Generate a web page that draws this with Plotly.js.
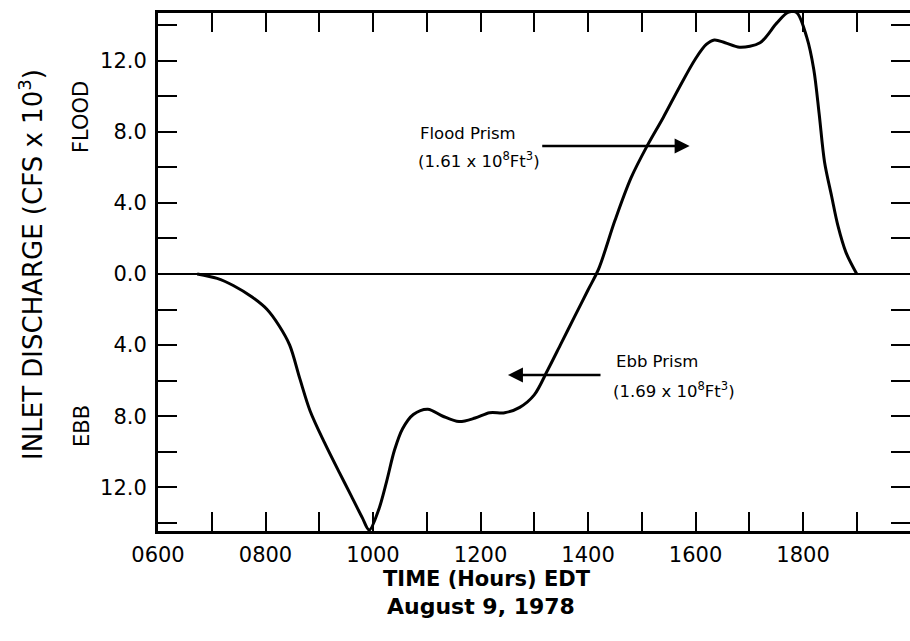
<!DOCTYPE html>
<html>
<head>
<meta charset="utf-8">
<script src="https://cdn.plot.ly/plotly-3.0.1.min.js"></script>
<style>html,body{margin:0;padding:0;background:#fff;}#chart{width:910px;height:641px;}</style>
</head>
<body>
<div id="chart"></div>
<script>
// Time in decimal hours (EDT), August 9, 1978
const hours = [6.73, 7.1, 7.4, 7.75, 8.03, 8.25, 8.45, 8.64, 8.83, 9.1, 9.38, 9.6, 9.8, 9.93,
  10.1, 10.25, 10.4, 10.55, 10.75, 11.02, 11.3, 11.6, 11.9, 12.17, 12.45, 12.73,
  13.0, 13.25, 13.5, 13.75, 14.0, 14.2, 14.5, 14.8, 15.1, 15.4, 15.7, 16.0, 16.2,
  16.35, 16.55, 16.82, 17.2, 17.51, 17.72, 17.88, 18.07, 18.2, 18.3, 18.4, 18.53, 18.65,
  18.8, 19.0];
// Inlet discharge (CFS x 10^3): flood positive, ebb negative
const discharge = [0, -0.25, -0.65, -1.3, -2.0, -2.9, -4.0, -5.9, -7.7, -9.5, -11.2, -12.5, -13.7, -14.4,
  -13.3, -11.7, -9.9, -8.7, -7.9, -7.6, -8.0, -8.3, -8.1, -7.8, -7.8, -7.5,
  -6.8, -5.4, -3.9, -2.4, -0.9, 0.3, 3.0, 5.4, 7.2, 8.8, 10.5, 12.1, 12.9,
  13.15, 13.0, 12.75, 13.0, 14.1, 14.7, 14.7, 13.3, 11.5, 9.0, 6.3, 4.4, 2.7,
  1.2, 0];

const xTickVals = [6, 7, 8, 9, 10, 11, 12, 13, 14, 15, 16, 17, 18, 19];
const xTickText = ["0600", "", "0800", "", "1000", "", "1200", "", "1400", "", "1600", "", "1800", ""];
const yTickVals = [-14, -12, -10, -8, -6, -4, -2, 0, 2, 4, 6, 8, 10, 12, 14];
const yTickText = ["", "12.0", "", "8.0", "", "4.0", "", "0.0", "", "4.0", "", "8.0", "", "12.0", ""];

const font = "DejaVu Sans, Arial, sans-serif";

const traces = [
  {
    x: hours, y: discharge, type: "scatter", mode: "lines",
    line: {color: "#000", width: 3, shape: "spline", smoothing: 0.9},
    hoverinfo: "skip", showlegend: false
  },
  {
    x: [], y: [], type: "scatter", mode: "lines", yaxis: "y2",
    hoverinfo: "skip", showlegend: false
  }
];

const layout = {
  width: 910, height: 641,
  margin: {l: 158, r: 0, t: 13, b: 110},
  paper_bgcolor: "#fff", plot_bgcolor: "#fff",
  font: {family: font, color: "#000"},
  showlegend: false,
  xaxis: {
    range: [6, 19.99], tickvals: xTickVals, ticktext: xTickText,
    ticks: "inside", ticklen: 19, tickwidth: 2, tickcolor: "#000",
    showline: true, linewidth: 3, linecolor: "#000", mirror: "ticks",
    showgrid: false, zeroline: false,
    ticklabelstandoff: 3,
    tickfont: {family: font, size: 21, color: "#000"}
  },
  yaxis: {
    range: [-14.45, 14.67], tickvals: yTickVals, ticktext: yTickText,
    ticks: "inside", ticklen: 19, tickwidth: 2, tickcolor: "#000",
    showline: true, linewidth: 3, linecolor: "#000",
    showgrid: false, zeroline: true, zerolinecolor: "#000", zerolinewidth: 1.5,
    ticklabelstandoff: 4,
    tickfont: {family: font, size: 21, color: "#000"}
  },
  yaxis2: {
    overlaying: "y", side: "right",
    range: [-14.45, 14.67], tickvals: yTickVals,
    ticks: "inside", ticklen: 19, tickwidth: 2, tickcolor: "#000",
    showticklabels: false, showline: false, showgrid: false, zeroline: false
  },
  annotations: [
    {xref: "paper", yref: "paper", x: -0.168, y: 0.515, xanchor: "center", yanchor: "middle",
     textangle: -90, showarrow: false, text: "INLET DISCHARGE (CFS x 10<sup>3</sup>)",
     font: {family: font, size: 26, color: "#000"}},
    {xref: "paper", yref: "paper", x: -0.1024, y: 0.799, xanchor: "center", yanchor: "middle",
     textangle: -90, showarrow: false, text: "FLOOD",
     font: {family: font, size: 21, color: "#000"}},
    {xref: "paper", yref: "paper", x: -0.101, y: 0.2027, xanchor: "center", yanchor: "middle",
     textangle: -90, showarrow: false, text: "EBB",
     font: {family: font, size: 21, color: "#000"}},
    {xref: "paper", yref: "paper", x: 0.437, y: -0.093, xanchor: "center", yanchor: "middle",
     showarrow: false, text: "<b>TIME (Hours) EDT</b>",
     font: {family: font, size: 21, color: "#000"}},
    {xref: "paper", yref: "paper", x: 0.43, y: -0.145, xanchor: "center", yanchor: "middle",
     showarrow: false, text: "<b>August 9, 1978</b>",
     font: {family: font, size: 22, color: "#000"}},
    {xref: "x", yref: "y", x: 10.84, y: 7.87, xanchor: "left", yanchor: "middle",
     showarrow: false, text: "Flood Prism",
     font: {family: font, size: 16.5, color: "#000"}},
    {xref: "x", yref: "y", x: 10.8, y: 6.41, xanchor: "left", yanchor: "middle",
     showarrow: false, text: "(1.61 x 10<sup>8</sup>Ft<sup>3</sup>)",
     font: {family: font, size: 16.5, color: "#000"}},
    {xref: "x", yref: "y", x: 14.48, y: -4.9, xanchor: "left", yanchor: "middle",
     showarrow: false, text: "Ebb Prism",
     font: {family: font, size: 16.5, color: "#000"}},
    {xref: "x", yref: "y", x: 14.43, y: -6.5, xanchor: "left", yanchor: "middle",
     showarrow: false, text: "(1.69 x 10<sup>8</sup>Ft<sup>3</sup>)",
     font: {family: font, size: 16.5, color: "#000"}},
    {xref: "x", yref: "y", axref: "x", ayref: "y", x: 15.89, y: 7.2, ax: 13.12, ay: 7.2,
     text: "", showarrow: true, arrowhead: 2, arrowsize: 1.2, arrowwidth: 2.5, arrowcolor: "#000"},
    {xref: "x", yref: "y", axref: "x", ayref: "y", x: 12.51, y: -5.68, ax: 14.26, ay: -5.68,
     text: "", showarrow: true, arrowhead: 2, arrowsize: 1.2, arrowwidth: 2.5, arrowcolor: "#000"}
  ]
};

Plotly.newPlot("chart", traces, layout, {staticPlot: true, displayModeBar: false});
</script>
</body>
</html>
